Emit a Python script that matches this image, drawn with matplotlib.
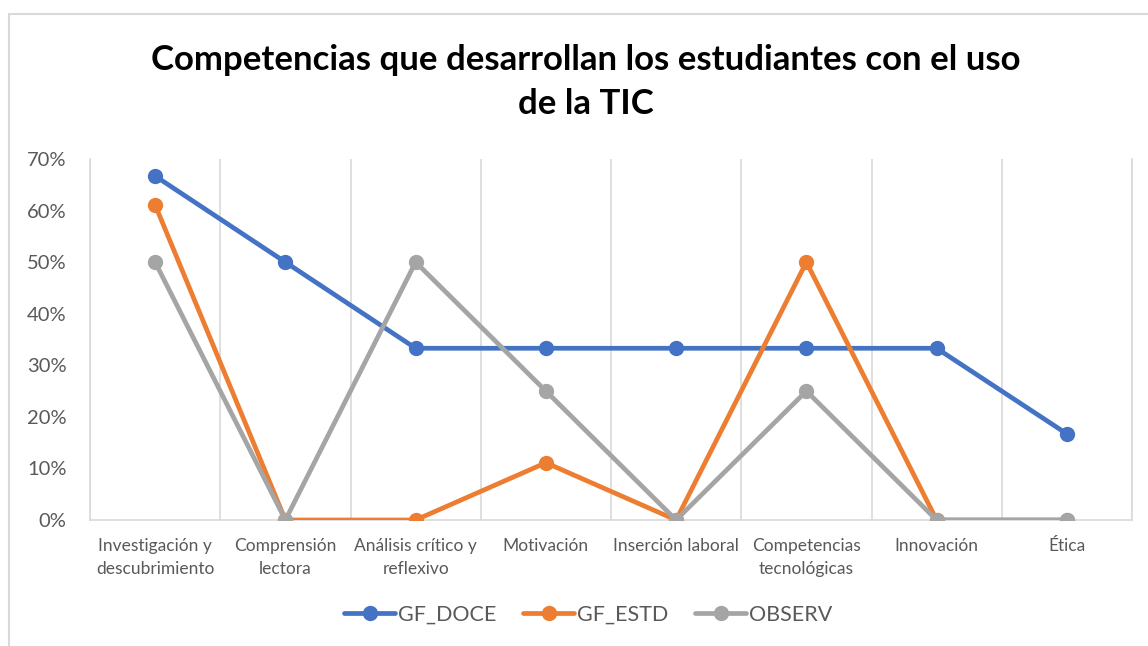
import matplotlib
matplotlib.use("Agg")
import matplotlib.pyplot as plt
from matplotlib.patches import Rectangle
from matplotlib.ticker import FixedLocator, PercentFormatter

categories = ["Investigación y\ndescubrimiento", "Comprensión\nlectora", "Análisis crítico y\nreflexivo",
              "Motivación", "Inserción laboral", "Competencias\ntecnológicas", "Innovación", "Ética"]
gf_doce = [66.7, 50.0, 33.3, 33.3, 33.3, 33.3, 33.3, 16.7]
gf_estd = [61.1, 0.0, 0.0, 11.1, 0.0, 50.0, 0.0, 0.0]
observ = [50.0, 0.0, 50.0, 25.0, 0.0, 25.0, 0.0, 0.0]
series_names = ["GF_DOCE", "GF_ESTD", "OBSERV"]
colors = ["#4472C4", "#ED7D31", "#A5A5A5"]

plt.rcParams['font.family'] = ['Lato', 'DejaVu Sans']

fig = plt.figure(figsize=(11.48, 6.46), dpi=100)
ax = fig.add_axes([90/1148, 1-520/646, (1132-90)/1148, (520-159)/646])

x = list(range(len(categories)))
for vals, name, c in zip([gf_doce, gf_estd, observ], series_names, colors):
    ax.plot(x, vals, color=c, lw=3.4, marker='o', ms=10, label=name, solid_capstyle='round', zorder=3)

ax.set_xlim(-0.5, len(categories)-0.5)
ax.set_ylim(0, 70)
ax.set_yticks(range(0, 71, 10))
ax.yaxis.set_major_formatter(PercentFormatter(decimals=0))
ax.set_xticks(x)
ax.set_xticklabels(categories, fontsize=12.5, color="#595959", linespacing=1.55)
ax.xaxis.set_minor_locator(FixedLocator([i + 0.5 for i in range(-1, len(categories))]))
ax.grid(which='minor', axis='x', color="#D9D9D9", lw=1.2)
ax.tick_params(which='both', length=0)
ax.tick_params(axis='y', labelsize=14.5, labelcolor="#595959", pad=17)
ax.tick_params(axis='x', pad=13)
for s in ['left', 'right', 'bottom']:
    ax.spines[s].set_color("#D9D9D9")
    ax.spines[s].set_linewidth(1.2)
ax.spines['top'].set_visible(False)
ax.spines['bottom'].set_zorder(1)

fig.text(0.51, 1-82/646, "Competencias que desarrollan los estudiantes con el uso\nde la TIC",
         ha='center', va='center', fontsize=25, fontweight='bold', linespacing=1.45, color='black')

fig.legend(loc='center', bbox_to_anchor=(0.512, 1-615/646), ncol=3, frameon=False,
           fontsize=15.5, handlelength=2.4, handletextpad=0.1, columnspacing=1.25,
           labelcolor="#595959")

fig.add_artist(Rectangle((9/1148, -0.05), 1.1, 1-14/646+0.05, transform=fig.transFigure,
                         fill=False, edgecolor="#D9D9D9", lw=1.5))

fig.savefig("out.png", dpi=100)
